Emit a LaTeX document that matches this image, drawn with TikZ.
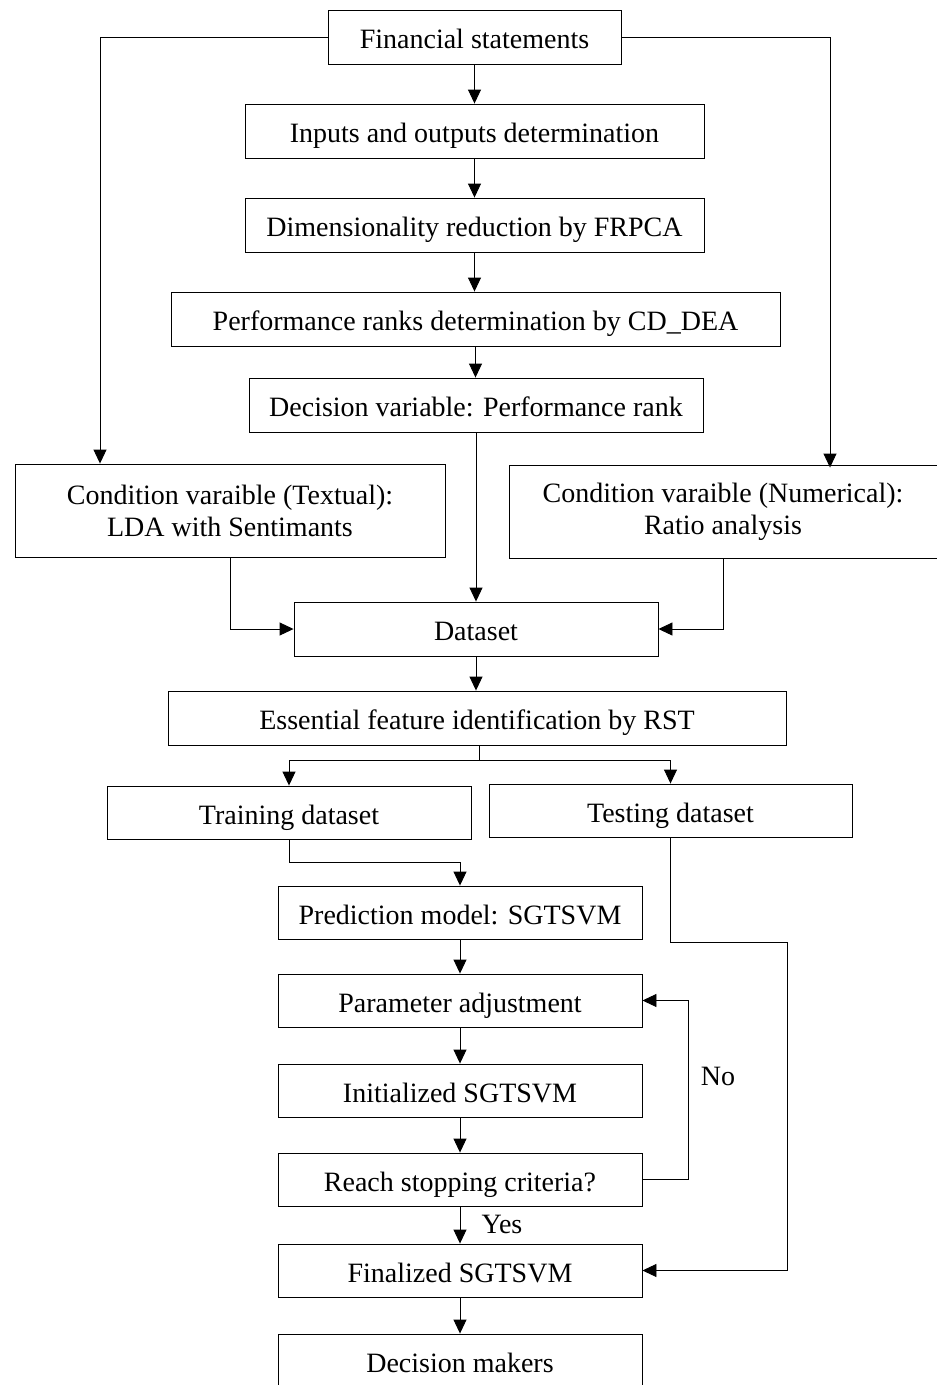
\documentclass[tikz,border=0pt]{standalone}
\usepackage{fontspec}
\setmainfont{Liberation Serif}
\usetikzlibrary{arrows.meta, positioning}

\begin{document}
\begin{tikzpicture}[x=1pt, y=-1pt,
    box/.style={draw, line width=0.9pt, minimum height=54pt, inner sep=4pt,
      font=\fontsize{28}{32}\selectfont, align=center},
    stepbox/.style={box, text height=25pt, text depth=2pt},
    arrow/.style={-{Triangle[length=14pt, width=13pt]}, line width=0.9pt},
    line/.style={line width=0.9pt},
    lbl/.style={font=\fontsize{28}{32}\selectfont},
  ]
    \useasboundingbox (0,0) rectangle (937,1385);

    % main chain
    \node[stepbox, minimum width=293pt] (fin) at (474.5, 37) {Financial statements};
    \node[stepbox, minimum width=459pt] (inout) at (474.5, 131) {Inputs and outputs determination};
    \node[stepbox, minimum width=459pt] (dimred) at (474.5, 225) {Dimensionality reduction by FRPCA};
    \node[stepbox, minimum width=609pt] (perf) at (475.5, 319) {Performance ranks determination by CD\_DEA};
    \node[stepbox, minimum width=454pt] (decvar) at (476, 405) {Decision variable: Performance rank};
    \node[box, minimum width=430pt, minimum height=93pt] (textual) at (230, 510.5)
      {Condition varaible (Textual):\\LDA with Sentimants};
    \node[box, minimum width=428pt, minimum height=93pt] (numer) at (723, 511.5)
      {Condition varaible (Numerical):\\Ratio analysis};
    \node[stepbox, minimum width=364pt] (dataset) at (476, 629) {Dataset};
    \node[stepbox, minimum width=618pt] (rst) at (477, 718) {Essential feature identification by RST};
    \node[stepbox, minimum width=364pt, minimum height=53pt] (train) at (289, 812.5) {Training dataset};
    \node[stepbox, minimum width=363pt, minimum height=53pt] (test) at (670.5, 810.5) {Testing dataset};
    \node[stepbox, minimum width=364pt, minimum height=53pt] (pred) at (460, 912.5) {Prediction model: SGTSVM};
    \node[stepbox, minimum width=364pt, minimum height=53pt] (param) at (460, 1000.5) {Parameter adjustment};
    \node[stepbox, minimum width=364pt, minimum height=53pt] (init) at (460, 1090.5) {Initialized SGTSVM};
    \node[stepbox, minimum width=364pt, minimum height=53pt] (reach) at (460, 1179.5) {Reach stopping criteria?};
    \node[stepbox, minimum width=364pt, minimum height=53pt] (final) at (460, 1270.5) {Finalized SGTSVM};
    \node[stepbox, minimum width=364pt, minimum height=53pt] (dm) at (460, 1360.5) {Decision makers};

    % bend points
    \coordinate (fl) at (100, 0);
    \coordinate (fr) at (830, 0);
    \coordinate (split) at (479, 760);
    \coordinate (tp) at (0, 862);
    \coordinate (nox) at (688, 0);
    \coordinate (tf) at (787, 942);

    \draw[arrow] (fin) -- (inout);
    \draw[arrow] (inout) -- (dimred);
    \draw[arrow] (dimred.south) -- (dimred.south |- perf.north);
    \draw[arrow] (perf.south) -- (perf.south |- decvar.north);
    \draw[arrow] (decvar) -- (dataset);
    \draw[arrow] (fin.west) -| (fl |- textual.north);
    \draw[arrow] (fin.east) -| ([yshift=-3pt]fr |- numer.north);
    \draw[arrow] (textual.south) |- (dataset.west);
    \draw[arrow] (numer.south) |- (dataset.east);
    \draw[arrow] (dataset.south) -- (dataset.south |- rst.north);
    \draw[line] (rst.south -| split) -- (split);
    \draw[arrow] (split) -| (train.north);
    \draw[arrow] (split) -| (test.north);
    \draw[arrow] (train.south) -- (train.south |- tp) -| (pred.north);
    \draw[arrow] (pred) -- (param);
    \draw[arrow] (param) -- (init);
    \draw[arrow] (init) -- (reach);
    \draw[arrow] (reach) -- (final);
    \draw[arrow] (final) -- (dm);
    \draw[arrow] (reach.east) -- (reach.east -| nox) |- (param.east);
    \draw[arrow] (test.south) |- (tf) |- (final.east);

    \node[lbl] (yes) at (502, 1224) {Yes};
    \node[lbl] (no) at (718, 1076) {No};
\end{tikzpicture}
\end{document}
